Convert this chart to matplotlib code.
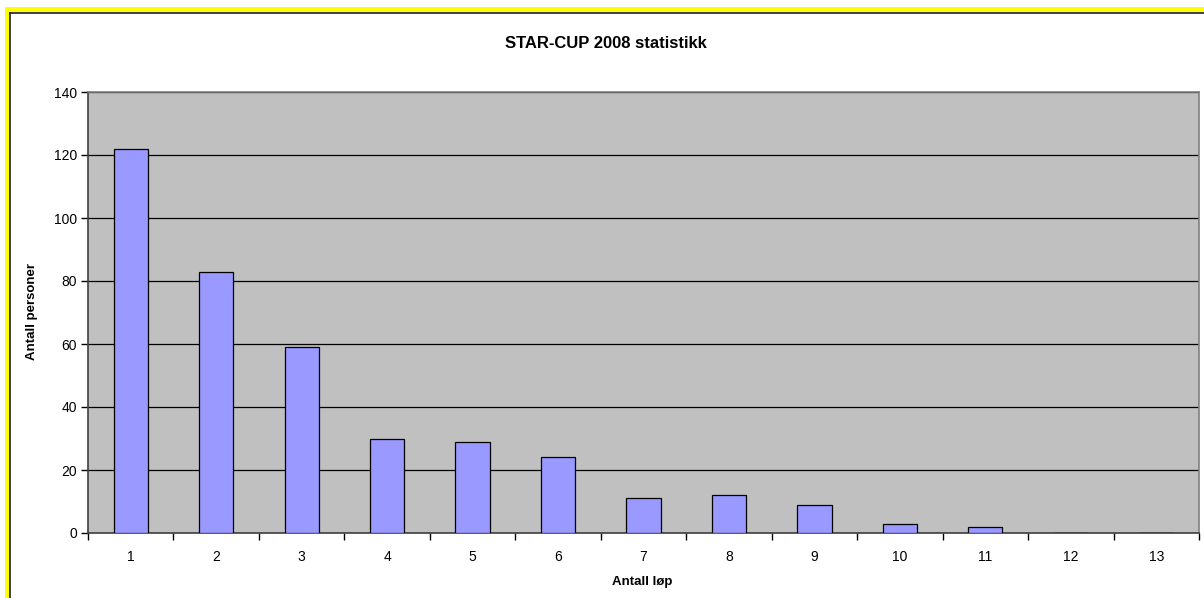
import matplotlib.pyplot as plt
from matplotlib.patches import Rectangle
from matplotlib.lines import Line2D

plt.rcParams['font.family'] = ['Liberation Sans', 'DejaVu Sans']

# data
kategorier = [str(i) for i in range(1, 14)]
antall = [122, 83, 59, 30, 29, 24, 11, 12, 9, 3, 2, 0, 0]

fig = plt.figure(figsize=(12.04, 5.98), dpi=100)
fig.patch.set_facecolor('white')

# yellow frame (left and top only, the rest is cut off)
W, H = 1204, 598
fig.add_artist(Rectangle((5 / W, 0), 5 / W, 1 - 7 / H, transform=fig.transFigure,
                         facecolor='#FFFF00', edgecolor='none'))
fig.add_artist(Rectangle((5 / W, 1 - 12 / H), 1, 5 / H, transform=fig.transFigure,
                         facecolor='#FFFF00', edgecolor='none'))
fig.add_artist(Line2D([10 / W, 10 / W], [0, 1 - 12.5 / H], transform=fig.transFigure,
                      color='#202020', lw=1.2))
fig.add_artist(Line2D([10 / W, 1], [1 - 12.5 / H, 1 - 12.5 / H], transform=fig.transFigure,
                      color='#202020', lw=1.2))

left, right, top, bottom = 88, 1199, 92, 533
ax = fig.add_axes([left / W, 1 - bottom / H, (right - left) / W, (bottom - top) / H])
ax.set_facecolor('#C0C0C0')

x = list(range(len(antall)))
ax.bar(x, antall, width=0.4, color='#9999FF', edgecolor='black', linewidth=0.9, zorder=3)

ax.set_xlim(-0.5, len(antall) - 0.5)
ax.set_ylim(0, 140)
ax.set_yticks(range(0, 141, 20))
ax.yaxis.grid(True, color='black', linewidth=0.9, zorder=1)
ax.set_axisbelow(True)

ax.set_xticks(x)
ax.set_xticklabels(kategorier)
ax.set_xticks([i + 0.5 for i in range(-1, len(antall))], minor=True)
ax.tick_params(axis='x', which='major', length=0, pad=12, labelsize=10)
ax.tick_params(axis='x', which='minor', length=5, width=1, color='black', direction='out')
ax.tick_params(axis='y', length=5, width=1, color='black', direction='out', labelsize=10, pad=3)

for s in ['top', 'right']:
    ax.spines[s].set_color('#808080')
    ax.spines[s].set_linewidth(1.2)
for s in ['left', 'bottom']:
    ax.spines[s].set_color('#404040')
    ax.spines[s].set_linewidth(1.2)

fig.text(606 / W, 1 - 44 / H, 'STAR-CUP 2008 statistikk', ha='center', va='center',
         fontsize=12, fontweight='bold')
fig.text(32 / W, 1 - 312 / H, 'Antall personer', ha='center', va='center',
         rotation=90, fontsize=9.5, fontweight='bold')
fig.text(642 / W, 1 - 582 / H, 'Antall løp', ha='center', va='center',
         fontsize=9.5, fontweight='bold')

fig.savefig('out.png', dpi=100)
